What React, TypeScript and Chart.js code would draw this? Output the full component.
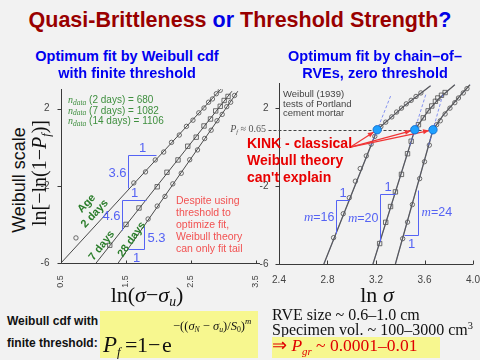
import React, { useEffect, useRef } from 'react';
import { Chart, registerables } from 'chart.js';

Chart.register(...registerables);

const SANS = "'Liberation Sans', Arial, sans-serif";
const SERIF = "'Liberation Serif', 'Times New Roman', serif";
const ANN = '#5563f4';

// ---------- Left chart: ln(sigma - sigma_u) vs Weibull scale ----------
const leftXTicks = [0.5, 1.5, 2.5, 3.5];
const leftYTicks = [2, -2, -6];
const fit2X = [0.5, 2.99];
const fit2Y = [-6, 3.12];
const fit7X = [1.04, 3.13];
const fit7Y = [-6, 2.9];
const fit28X = [1.38, 3.22];
const fit28Y = [-6, 2.9];
const d2X = [0.73, 1.62, 1.8, 1.95, 2.08, 2.2, 2.32, 2.43, 2.53, 2.62, 2.7, 2.77, 2.83, 2.89, 2.95];
const d2Y = [-4.7, -1.85, -1.28, -0.66, -0.25, 0.25, 0.63, 1.08, 1.4, 1.78, 2.03, 2.33, 2.5, 2.77, 2.95];
const d7X = [1.25, 1.5, 1.7, 1.98, 2.13, 2.3, 2.45, 2.58, 2.7, 2.8, 2.88, 2.95, 3.01, 3.07];
const d7Y = [-5.08, -4.0, -3.15, -2.05, -1.3, -0.66, 0.05, 0.52, 1.1, 1.46, 1.88, 2.12, 2.42, 2.63];
const d28X = [1.84, 1.98, 2.1, 2.22, 2.35, 2.48, 2.6, 2.71, 2.81, 2.9, 2.98, 3.05, 3.11, 3.17];
const d28Y = [-3.72, -3.05, -2.55, -1.9, -1.35, -0.65, -0.14, 0.45, 0.88, 1.37, 1.7, 2.1, 2.33, 2.68];
const leftSlopeLabels = ['3.6', '4.6', '5.3'];
const leftSlopeTri: [number, number][][] = [
  [[1.53, -2.11], [1.53, -0.4], [1.96, -0.4]],
  [[1.44, -4.3], [1.44, -2.74], [1.8, -2.74]],
  [[1.53, -5.28], [1.777, -5.28], [1.777, -4.08]],
];
const leftSlopeKind = ['top', 'top', 'bottom'];

// ---------- Right chart: ln(sigma) vs Weibull scale ----------
const rightXTicks = [2.4, 2.8, 3.2, 3.6, 4.0];
const rightYTicks = [2, -2, -6];
const c16X = [2.77, 3.21, 3.32, 3.43, 3.54, 3.65];
const c16Y = [-6, 0.89, 1.5, 2.1, 2.62, 3.15];
const c20X = [3.175, 3.52, 3.63, 3.72, 3.785, 3.85];
const c20Y = [-6, 0.89, 1.86, 2.5, 2.85, 3.2];
const c24X = [3.36, 3.67, 3.75, 3.84, 3.91, 3.975];
const c24Y = [-6, 0.89, 1.6, 2.25, 2.75, 3.2];
const m16X = [2.85, 2.93, 2.98, 3.03, 3.07, 3.12, 3.16, 3.19, 3.24, 3.28, 3.33, 3.37, 3.41, 3.45, 3.49, 3.53, 3.57];
const m16Y = [-4.65, -3.42, -2.6, -1.75, -1.1, -0.45, 0.15, 0.55, 1.05, 1.28, 1.55, 1.8, 2.0, 2.22, 2.4, 2.6, 2.78];
const m20X = [3.23, 3.28, 3.32, 3.36, 3.41, 3.46, 3.49, 3.55, 3.59, 3.63, 3.66, 3.69, 3.71, 3.74, 3.77];
const m20Y = [-4.95, -3.86, -3.05, -2.3, -1.4, -0.34, 0.3, 1.15, 1.5, 1.86, 2.11, 2.35, 2.52, 2.66, 2.8];
const m24X = [3.42, 3.46, 3.5, 3.56, 3.6, 3.64, 3.7, 3.73, 3.77, 3.81, 3.85, 3.88, 3.92, 3.95];
const m24Y = [-4.7, -3.85, -2.95, -1.62, -0.75, 0.1, 1.15, 1.35, 1.7, 2.0, 2.28, 2.52, 2.78, 3.0];
const kinkX = [3.21, 3.52, 3.67];
const kinkY = 0.89;
const arrowTail: [number, number] = [2.99, 0.0];
const rightSlopeLabels = ['16', '20', '24'];
const rightSlopeTri: [number, number][][] = [
  [[2.87, -4.43], [2.87, -2.69], [2.981, -2.69]],
  [[3.233, -4.84], [3.233, -2.43], [3.3535, -2.43]],
  [[3.434, -4.52], [3.546, -4.52], [3.546, -2.2]],
];
const rightSlopeKind = ['top', 'top', 'bottom'];

const pts = (xs: number[], ys: number[]) => xs.map((x, i) => ({ x, y: ys[i] }));
const lineDs = (xs: number[], ys: number[], color: string, width = 1) => ({
  data: pts(xs, ys), showLine: true, borderColor: color, borderWidth: width,
  pointRadius: 0, tension: 0, fill: false,
});
const markDs = (xs: number[], ys: number[], style: string) => ({
  data: pts(xs, ys), showLine: false, pointStyle: style, pointRadius: style === 'rect' ? 3.1 : 2.2,
  borderColor: '#4a4a4a', borderWidth: 0.8, backgroundColor: 'rgba(0,0,0,0)',
});

function drawParts(ctx: any, parts: { t: string; f: string }[], x: number, y: number, align: string) {
  let w = 0;
  parts.forEach((p) => { ctx.font = p.f; w += ctx.measureText(p.t).width; });
  let cx = align === 'right' ? x - w : align === 'center' ? x - w / 2 : x;
  ctx.textAlign = 'left'; ctx.textBaseline = 'middle';
  parts.forEach((p) => { ctx.font = p.f; ctx.fillText(p.t, cx, y); cx += ctx.measureText(p.t).width; });
}

function drawSlopes(ctx: any, tris: [number, number][][], kinds: string[], labels: string[], X: any, Y: any, italicM: boolean) {
  ctx.strokeStyle = ANN; ctx.fillStyle = ANN; ctx.lineWidth = 1;
  tris.forEach((t, i) => {
    const p = t.map(([x, y]) => [Math.round(X(x)) + 0.5, Math.round(Y(y)) + 0.5]);
    ctx.beginPath(); ctx.moveTo(p[0][0], p[0][1]); ctx.lineTo(p[1][0], p[1][1]); ctx.lineTo(p[2][0], p[2][1]); ctx.stroke();
    const lab = italicM
      ? [{ t: 'm', f: `italic 13px ${SERIF}` }, { t: '=' + labels[i], f: `12.5px ${SANS}` }]
      : [{ t: labels[i], f: `13px ${SANS}` }];
    if (kinds[i] === 'top') {
      drawParts(ctx, [{ t: '1', f: `13px ${SANS}` }], (p[1][0] + p[2][0]) / 2, p[1][1] - 7, 'center');
      drawParts(ctx, lab, p[1][0] - 2, (p[0][1] + p[1][1]) / 2 + 1, 'right');
    } else {
      drawParts(ctx, [{ t: '1', f: `13px ${SANS}` }], (p[0][0] + p[1][0]) / 2, p[0][1] + 9, 'center');
      drawParts(ctx, lab, p[1][0] + 3, (p[1][1] + p[2][1]) / 2, 'left');
    }
  });
}

const leftDeco = {
  id: 'leftDeco',
  afterDatasetsDraw(chart: any) {
    const { ctx, chartArea: a, scales } = chart;
    const X = (v: number) => scales.x.getPixelForValue(v);
    const Y = (v: number) => scales.y.getPixelForValue(v);
    ctx.save();
    ctx.strokeStyle = '#3a3a3a'; ctx.lineWidth = 1;
    const L = Math.round(a.left) + 0.5, B = Math.round(a.bottom) + 0.5;
    ctx.beginPath();
    ctx.moveTo(L, Math.round(a.top)); ctx.lineTo(L, B); ctx.lineTo(Math.round(a.right) + 4, B);
    leftYTicks.forEach((v) => { const y = Math.round(Y(v)) + 0.5; ctx.moveTo(L - 4, y); ctx.lineTo(L, y); });
    leftXTicks.forEach((v) => { const x = Math.round(X(v)) + 0.5; ctx.moveTo(x, B); ctx.lineTo(x, B - 3); });
    ctx.stroke();
    ctx.fillStyle = '#444'; ctx.font = `10px ${SANS}`; ctx.textAlign = 'right'; ctx.textBaseline = 'middle';
    leftYTicks.forEach((v) => ctx.fillText(String(v), L - 12, Y(v)));
    ctx.font = `9px ${SANS}`; ctx.textAlign = 'center';
    leftXTicks.forEach((v) => {
      ctx.save(); ctx.translate(X(v), B + 18); ctx.rotate(-Math.PI / 2); ctx.fillText(v.toFixed(1), 0, 0); ctx.restore();
    });
    drawSlopes(ctx, leftSlopeTri, leftSlopeKind, leftSlopeLabels, X, Y, false);
    ctx.restore();
  },
};

const rightDeco = {
  id: 'rightDeco',
  afterDatasetsDraw(chart: any) {
    const { ctx, chartArea: a, scales } = chart;
    const X = (v: number) => scales.x.getPixelForValue(v);
    const Y = (v: number) => scales.y.getPixelForValue(v);
    ctx.save();
    ctx.strokeStyle = '#3a3a3a'; ctx.lineWidth = 1;
    const L = Math.round(a.left) + 0.5, B = Math.round(a.bottom) + 0.5;
    ctx.beginPath();
    ctx.moveTo(L, Math.round(a.top)); ctx.lineTo(L, B); ctx.lineTo(Math.round(a.right), B);
    rightYTicks.forEach((v) => { const y = Math.round(Y(v)) + 0.5; ctx.moveTo(L - 4, y); ctx.lineTo(L, y); });
    rightXTicks.forEach((v) => { const x = Math.round(X(v)) + 0.5; ctx.moveTo(x, B); ctx.lineTo(x, B - 4); });
    ctx.stroke();
    ctx.fillStyle = '#444'; ctx.font = `10px ${SANS}`; ctx.textAlign = 'right'; ctx.textBaseline = 'middle';
    rightYTicks.forEach((v) => ctx.fillText(String(v), L - 11, Y(v)));
    ctx.textAlign = 'center';
    rightXTicks.forEach((v) => ctx.fillText(v.toFixed(1), X(v), B + 16));
    drawSlopes(ctx, rightSlopeTri, rightSlopeKind, rightSlopeLabels, X, Y, true);

    // dashed P_f level line
    const ky = Math.round(Y(kinkY)) + 0.5;
    ctx.setLineDash([3, 2]); ctx.strokeStyle = '#444'; ctx.lineWidth = 1;
    ctx.beginPath(); ctx.moveTo(L - 11, ky); ctx.lineTo(X(kinkX[2]), ky); ctx.stroke();

    // dashed blue extensions of the lower (m) branches
    const curves = [[c16X, c16Y], [c20X, c20Y], [c24X, c24Y]];
    ctx.strokeStyle = 'rgba(90,110,240,0.9)'; ctx.lineWidth = 0.8; ctx.setLineDash([3, 2]);
    curves.forEach(([cx, cy], i) => {
      const s = (cy[1] - cy[0]) / (cx[1] - cx[0]);
      const y0 = kinkY - 0.8, y1 = kinkY + 1.8;
      ctx.beginPath();
      ctx.moveTo(X(kinkX[i] + (y0 - kinkY) / s), Y(y0));
      ctx.lineTo(X(kinkX[i] + (y1 - kinkY) / s), Y(y1));
      ctx.stroke();
    });
    ctx.setLineDash([]);

    // red arrows
    const tx = X(arrowTail[0]), ty = Y(arrowTail[1]);
    ctx.strokeStyle = '#f03535'; ctx.fillStyle = '#f03535'; ctx.lineWidth = 1.2;
    kinkX.forEach((kx) => {
      const hx = X(kx), hy = Y(kinkY);
      const ang = Math.atan2(hy - ty, hx - tx);
      const ex = hx - Math.cos(ang) * 4, ey = hy - Math.sin(ang) * 4;
      ctx.beginPath(); ctx.moveTo(tx, ty); ctx.lineTo(ex, ey); ctx.stroke();
      ctx.beginPath();
      ctx.moveTo(ex, ey);
      ctx.lineTo(ex - Math.cos(ang) * 6 + Math.sin(ang) * 2.5, ey - Math.sin(ang) * 6 - Math.cos(ang) * 2.5);
      ctx.lineTo(ex - Math.cos(ang) * 6 - Math.sin(ang) * 2.5, ey - Math.sin(ang) * 6 + Math.cos(ang) * 2.5);
      ctx.closePath(); ctx.fill();
    });

    // kink dots
    kinkX.forEach((kx) => {
      ctx.beginPath(); ctx.arc(X(kx), Y(kinkY), 4.2, 0, Math.PI * 2);
      ctx.fillStyle = '#1ea0ff'; ctx.fill();
      ctx.strokeStyle = '#0a64c8'; ctx.lineWidth = 0.8; ctx.stroke();
    });
    ctx.restore();
  },
};

function baseOptions(xmin: number, xmax: number, ymin: number, ymax: number, padding: any) {
  return {
    responsive: false, animation: false as const, events: [] as any[],
    layout: { padding },
    plugins: { legend: { display: false }, tooltip: { enabled: false } },
    scales: {
      x: { type: 'linear' as const, display: false, min: xmin, max: xmax },
      y: { type: 'linear' as const, display: false, min: ymin, max: ymax },
    },
  };
}

function ChartCanvas({ left, top, width, height, config }: any) {
  const ref = useRef<HTMLCanvasElement>(null);
  useEffect(() => {
    const chart = new Chart(ref.current as HTMLCanvasElement, config());
    return () => chart.destroy();
  }, []);
  return (
    <canvas ref={ref} width={width} height={height}
      style={{ position: 'absolute', left, top, width, height }} />
  );
}

const leftConfig = () => ({
  type: 'scatter',
  data: {
    datasets: [
      lineDs(fit2X, fit2Y, '#4a4a4a'),
      lineDs(fit7X, fit7Y, '#4a4a4a'),
      lineDs(fit28X, fit28Y, '#4a4a4a'),
      markDs(d2X, d2Y, 'circle'),
      markDs(d7X, d7Y, 'rect'),
      markDs(d28X, d28Y, 'circle'),
    ],
  },
  options: baseOptions(0.5, 3.5, -6, 3, { left: 31, right: 9, top: 9.3, bottom: 27 }),
  plugins: [leftDeco],
});

const rightConfig = () => ({
  type: 'scatter',
  data: {
    datasets: [
      lineDs(c16X, c16Y, '#5a5a5a', 1.3),
      lineDs(c20X, c20Y, '#5a5a5a', 1.3),
      lineDs(c24X, c24Y, '#5a5a5a', 1.3),
      lineDs(c16X, c16Y, 'rgba(80,105,235,0.85)', 0.6),
      lineDs(c20X, c20Y, 'rgba(80,105,235,0.85)', 0.6),
      lineDs(c24X, c24Y, 'rgba(80,105,235,0.85)', 0.6),
      markDs(m16X, m16Y, 'circle'),
      markDs(m20X, m20Y, 'rect'),
      markDs(m24X, m24Y, 'circle'),
    ],
  },
  options: baseOptions(2.4, 4.0, -6, 3.3, { left: 39, right: 7, top: 3.5, bottom: 26 }),
  plugins: [rightDeco],
});

function Txt({ x, y, a = 's', rot = 0, st = {}, children }: any) {
  const tx = a === 's' ? '0%' : a === 'm' ? '-50%' : '-100%';
  return (
    <div style={{
      position: 'absolute', left: x, top: y, whiteSpace: 'nowrap', lineHeight: 1,
      transform: `translate(${tx},-50%)` + (rot ? ` rotate(${rot}deg)` : ''), ...st,
    }}>{children}</div>
  );
}

function Base({ x, b, fs, serif = true, a = 's', st = {}, children }: any) {
  const tx = a === 's' ? '0%' : a === 'm' ? '-50%' : '-100%';
  return (
    <div style={{
      position: 'absolute', left: x, top: b - (serif ? 0.8375 : 0.8465) * fs, whiteSpace: 'nowrap', lineHeight: 1,
      fontSize: fs, fontFamily: serif ? SERIF : SANS, transform: `translateX(${tx})`, ...st,
    }}>{children}</div>
  );
}

const Sub = ({ children, s = 0.62, dy = 0.3 }: any) => (
  <span style={{ fontSize: `${s}em`, position: 'relative', top: `${dy}em` }}>{children}</span>
);
const Sup = ({ children, s = 0.7, dy = -0.6 }: any) => (
  <span style={{ fontSize: `${s}em`, position: 'relative', top: `${dy}em` }}>{children}</span>
);

export default function App() {
  const green = '#2b7d2b';
  const ndata = (label: string) => (
    <>
      <i style={{ fontFamily: SERIF }}>n</i>
      <Sub s={0.75} dy={0.25}><i style={{ fontFamily: SERIF }}>data</i></Sub>
      {label}
    </>
  );
  return (
    <div style={{ position: 'absolute', left: 0, top: 0, width: 480, height: 360, background: '#f2f2f2', overflow: 'hidden', fontFamily: SANS }}>
      <ChartCanvas left={30} top={80} width={235} height={210} config={leftConfig} />
      <ChartCanvas left={240} top={78} width={240} height={212} config={rightConfig} />

      {/* title */}
      <div style={{ position: 'absolute', left: 0, width: 480, top: 10, textAlign: 'center', font: `bold 21.5px ${SANS}`, color: '#990000', lineHeight: 1 }}>
        Quasi-Brittleness <span style={{ color: '#0000e6' }}>or</span> Threshold Strength<span style={{ color: '#0000e6' }}>?</span>
      </div>

      {/* subtitles */}
      <Txt x={127} y={56} a="m" st={{ font: `bold 14.5px ${SANS}`, color: '#0000f0' }}>Optimum fit by Weibull cdf</Txt>
      <Txt x={127} y={73} a="m" st={{ font: `bold 14.5px ${SANS}`, color: '#0000f0' }}>with finite threshold</Txt>
      <Txt x={375} y={56} a="m" st={{ font: `bold 14.5px ${SANS}`, color: '#0000f0' }}>Optimum fit by chain–of–</Txt>
      <Txt x={375} y={73} a="m" st={{ font: `bold 14.5px ${SANS}`, color: '#0000f0' }}>RVEs, zero threshold</Txt>

      {/* left chart annotations */}
      <Txt x={68} y={100} st={{ fontSize: 10, color: '#3f8f3f' }}>{ndata(' (2 days) = 680')}</Txt>
      <Txt x={68} y={110.5} st={{ fontSize: 10, color: '#3f8f3f' }}>{ndata(' (7 days) = 1082')}</Txt>
      <Txt x={68} y={121} st={{ fontSize: 10, color: '#3f8f3f' }}>{ndata(' (14 days) = 1106')}</Txt>

      <Txt x={85.5} y={202.5} a="m" rot={-47} st={{ font: `bold 11px ${SANS}`, color: green }}>Age</Txt>
      <Txt x={94} y={212.5} a="m" rot={-47} st={{ font: `bold 11px ${SANS}`, color: green }}>2 days</Txt>
      <Txt x={101} y={244.5} a="m" rot={-52} st={{ font: `bold 11px ${SANS}`, color: green }}>7 days</Txt>
      <Txt x={130.5} y={239} a="m" rot={-55} st={{ font: `bold 11px ${SANS}`, color: green }}>28 days</Txt>

      {['Despite using', 'threshold to', 'optimize fit,', 'Weibull theory', 'can only fit tail'].map((t, i) => (
        <Txt key={t} x={176} y={200 + i * 12} st={{ fontSize: 10.5, color: '#f25252' }}>{t}</Txt>
      ))}

      <Txt x={19} y={180} a="m" rot={-90} st={{ fontSize: 18, color: '#111' }}>Weibull scale</Txt>
      <Txt x={39} y={173} a="m" rot={-90} st={{ fontSize: 20, fontFamily: SERIF, color: '#111' }}>
        ln[−ln(1−<i>P</i><Sub><i>f</i></Sub>)]
      </Txt>

      <Base x={147} b={302} fs={22} a="m" st={{ color: '#111' }}>ln(<i>σ</i>−<i>σ</i><Sub><i>u</i></Sub>)</Base>
      <Base x={377} b={302} fs={22} a="m" st={{ color: '#111' }}>ln <i>σ</i></Base>

      {/* right chart annotations */}
      {['Weibull (1939)', 'tests of Portland', 'cement mortar'].map((t, i) => (
        <Txt key={t} x={283} y={94 + i * 9.7} st={{ fontSize: 9.5, color: '#444' }}>{t}</Txt>
      ))}
      <Txt x={266} y={129} a="e" st={{ fontSize: 10, fontFamily: SERIF, color: '#555' }}>
        <i>P</i><Sub><i>f</i></Sub> ≈ 0.65
      </Txt>
      {["KINK - classical", 'Weibull theory', "can't explain"].map((t, i) => (
        <Txt key={t} x={247} y={143 + i * 17} st={{ font: `bold 14px ${SANS}`, color: '#e80000' }}>{t}</Txt>
      ))}

      {/* bottom left */}
      <Base x={7} b={325} fs={12} serif={false} st={{ fontWeight: 'bold', color: '#111' }}>Weibull cdf with</Base>
      <Base x={7} b={347} fs={12} serif={false} st={{ fontWeight: 'bold', color: '#111' }}>finite threshold:</Base>
      <div style={{ position: 'absolute', left: 100, top: 311, width: 158, height: 47, background: '#f7f78f' }} />
      <Base x={103} b={352} fs={23} st={{ color: '#111' }}><i>P</i></Base>
      <Base x={117} b={356} fs={13} st={{ color: '#111' }}><i>f</i></Base>
      <Base x={125} b={352} fs={22} st={{ color: '#111' }}>=</Base>
      <Base x={137} b={352} fs={22} st={{ color: '#111' }}>1</Base>
      <Base x={148} b={352} fs={22} st={{ color: '#111' }}>−</Base>
      <Base x={162} b={352} fs={22} st={{ color: '#111' }}>e</Base>
      <Base x={173} b={330} fs={12.5} st={{ color: '#111' }}>
        −((<i>σ</i><Sub><i>N</i></Sub> − <i>σ</i><Sub><i>u</i></Sub>)/<i>S</i><Sub>0</Sub>)<Sup><i>m</i></Sup>
      </Base>

      {/* bottom right */}
      <Base x={272} b={320} fs={16} st={{ color: '#111' }}>RVE size ~ 0.6–1.0 cm</Base>
      <Base x={272} b={335} fs={16} st={{ color: '#111' }}>Specimen vol. ~ 100–3000 cm<Sup s={0.65} dy={-0.55}>3</Sup></Base>
      <div style={{ position: 'absolute', left: 272, top: 337, width: 168, height: 21, background: '#f7f78f' }} />
      <Base x={272} b={352} fs={17.5} st={{ color: '#e00000' }}>
        ⇒ <i>P</i><Sub><i>gr</i></Sub> ~ 0.0001–0.01
      </Base>
    </div>
  );
}
